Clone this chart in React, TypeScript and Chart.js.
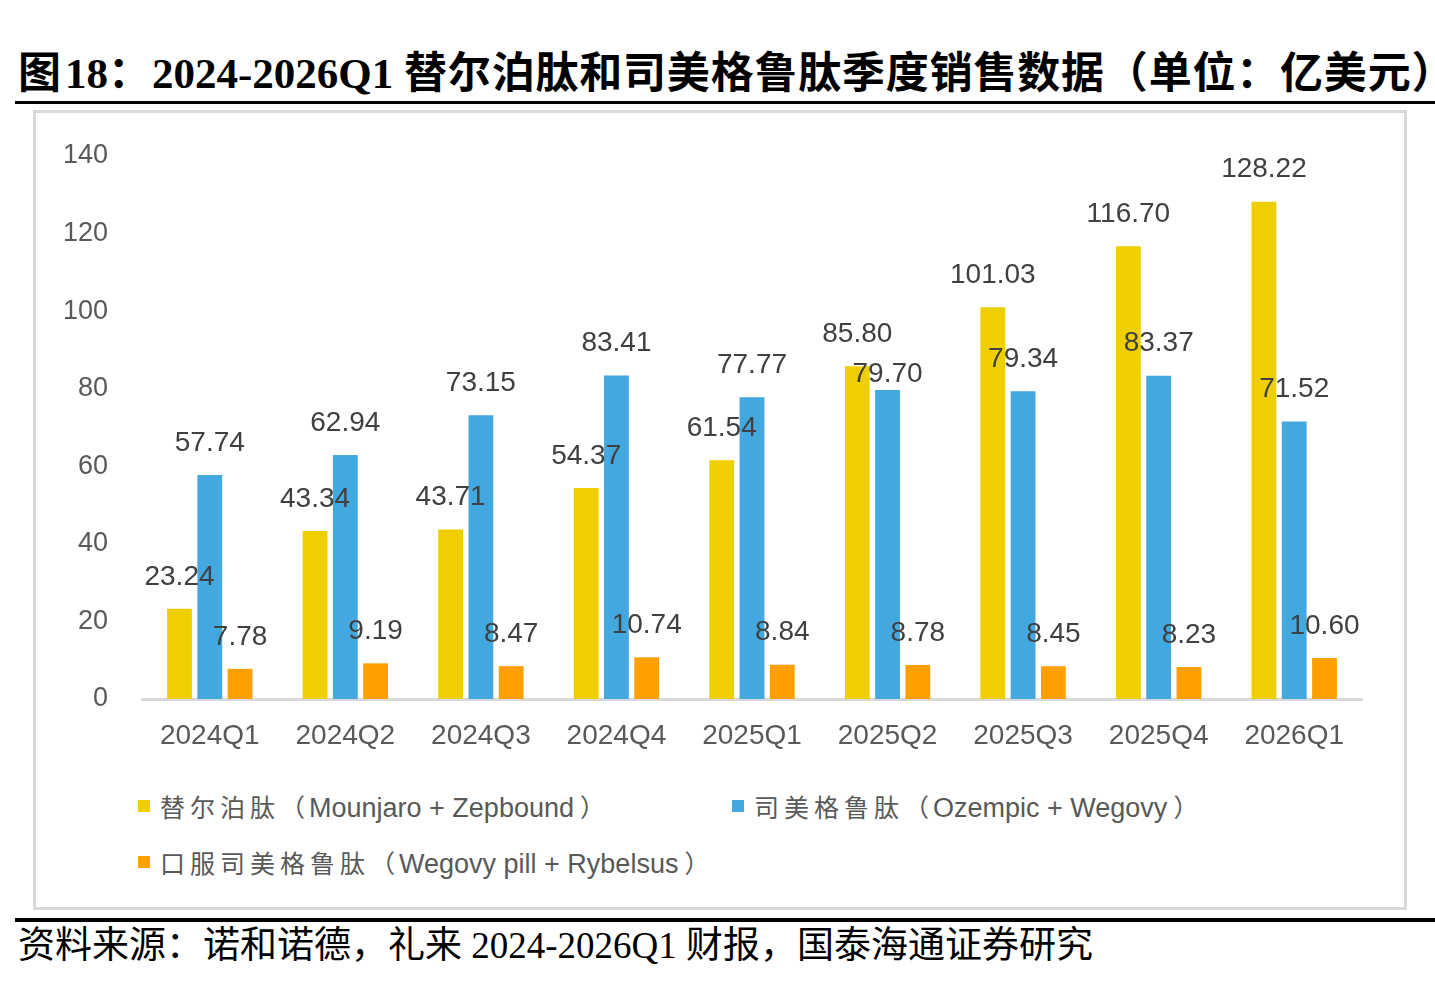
import { useEffect, useRef } from "react";
import { Chart, registerables } from "chart.js";

Chart.register(...registerables);

const quarters = ["2024Q1", "2024Q2", "2024Q3", "2024Q4", "2025Q1", "2025Q2", "2025Q3", "2025Q4", "2026Q1"];
const tirzepatide = [23.24, 43.34, 43.71, 54.37, 61.54, 85.8, 101.03, 116.7, 128.22];
const semaglutide = [57.74, 62.94, 73.15, 83.41, 77.77, 79.7, 79.34, 83.37, 71.52];
const oralSemaglutide = [7.78, 9.19, 8.47, 10.74, 8.84, 8.78, 8.45, 8.23, 10.6];
const yTicks = [0, 20, 40, 60, 80, 100, 120, 140];

const seriesCn = ["替尔泊肽", "司美格鲁肽", "口服司美格鲁肽"];
const seriesEn = ["Mounjaro + Zepbound", "Ozempic + Wegovy", "Wegovy pill + Rybelsus"];
const colors = ["#F0CF00", "#44A8E0", "#FFA000"];

const SANS = "'Liberation Sans', Arial, 'Noto Sans CJK SC', sans-serif";
const SERIF = "'Liberation Serif', 'Times New Roman', 'Noto Sans CJK SC', serif";

// labels sit above each bar; one label in the source is nudged down to dodge its neighbour
const labelPlugin = {
  id: "barLabels",
  afterDatasetsDraw(chart: any) {
    const ctx = chart.ctx;
    ctx.save();
    ctx.font = `28px ${SANS}`;
    ctx.fillStyle = "#404040";
    ctx.textAlign = "center";
    ctx.textBaseline = "middle";
    chart.data.datasets.forEach((ds: any, di: number) => {
      const meta = chart.getDatasetMeta(di);
      meta.data.forEach((bar: any, i: number) => {
        const nudge = di === 1 && i === 5 ? 16 : 0;
        ctx.fillText(Number(ds.data[i]).toFixed(2), bar.x, bar.y - 32 + nudge);
      });
    });
    ctx.restore();
  },
};

const BarChart = () => {
  const ref = useRef<HTMLCanvasElement>(null);

  useEffect(() => {
    if (!ref.current) return;
    const chart = new Chart(ref.current, {
      type: "bar",
      data: {
        labels: quarters,
        datasets: [tirzepatide, semaglutide, oralSemaglutide].map((d, i) => ({
          label: seriesCn[i] + "（" + seriesEn[i] + "）",
          data: d,
          backgroundColor: colors[i],
          categoryPercentage: 0.67,
          barPercentage: 0.82,
        })),
      },
      options: {
        animation: false,
        responsive: true,
        maintainAspectRatio: false,
        layout: { padding: { top: 44, right: 43, left: 0, bottom: 0 } },
        plugins: { legend: { display: false }, tooltip: { enabled: false } },
        scales: {
          x: {
            grid: { display: false, drawTicks: false },
            border: { color: "#D9D9D9", width: 3 },
            ticks: { color: "#595959", font: { family: SANS, size: 28 }, padding: 20, maxRotation: 0 },
            afterFit: (s: any) => {
              s.height = 60;
            },
          },
          y: {
            min: 0,
            max: 140,
            afterBuildTicks: (s: any) => {
              s.ticks = yTicks.map((v) => ({ value: v }));
            },
            grid: { display: false, drawTicks: false },
            border: { display: false },
            ticks: { color: "#595959", font: { family: SANS, size: 27 }, padding: 34 },
            afterFit: (s: any) => {
              s.width = 107;
              s.paddingTop = 0;
              s.paddingBottom = 0;
            },
          },
        },
      },
      plugins: [labelPlugin],
    });
    return () => chart.destroy();
  }, []);

  return (
    <div style={{ position: "absolute", left: 35, top: 112, width: 1370, height: 647 }}>
      <canvas ref={ref}></canvas>
    </div>
  );
};

const LegendItem = ({ x, y, color, cn, en }: { x: number; y: number; color: string; cn: string; en: string }) => (
  <div style={{ position: "absolute", left: x, top: y - 18, height: 36, display: "flex", alignItems: "center", whiteSpace: "nowrap" }}>
    <span style={{ display: "inline-block", width: 12, height: 12, background: color, marginRight: 10 }}></span>
    <span style={{ fontFamily: SANS, fontSize: 27, color: "#595959" }}>
      <span style={{ fontSize: 25, letterSpacing: 5 }}>{cn}</span>
      <span style={{ fontSize: 25 }}>（</span>
      <span style={{ marginLeft: 4 }}>{en}</span>
      <span style={{ fontSize: 25, marginLeft: 6 }}>）</span>
    </span>
  </div>
);

export default function App() {
  return (
    <div style={{ position: "absolute", left: 0, top: 0, width: 1435, height: 1005, background: "#fff", overflow: "hidden" }}>
      <div
        style={{
          position: "absolute",
          left: 18,
          top: 52,
          fontFamily: SERIF,
          fontWeight: "bold",
          fontSize: 43,
          lineHeight: "43px",
          whiteSpace: "nowrap",
          color: "#000",
        }}
      >
        <span style={{ marginRight: 4 }}>图</span>18<span style={{ letterSpacing: 1 }}>：</span>2024-2026Q1{" "}
        <span style={{ letterSpacing: 0.8 }}>替尔泊肽和司美格鲁肽季度销售数据（单位：亿美元）</span>
      </div>
      <div style={{ position: "absolute", left: 15, top: 101, width: 1420, height: 3, background: "#000" }}></div>

      <div style={{ position: "absolute", left: 33, top: 110, width: 1368, height: 794, border: "3px solid #D9D9D9" }}></div>

      <BarChart />

      <LegendItem x={138} y={806} color={colors[0]} cn={seriesCn[0]} en={seriesEn[0]} />
      <LegendItem x={732} y={806} color={colors[1]} cn={seriesCn[1]} en={seriesEn[1]} />
      <LegendItem x={138} y={862} color={colors[2]} cn={seriesCn[2]} en={seriesEn[2]} />

      <div style={{ position: "absolute", left: 15, top: 918, width: 1420, height: 4, background: "#000" }}></div>
      <div
        style={{
          position: "absolute",
          left: 18,
          top: 927,
          fontFamily: SERIF,
          fontSize: 37,
          lineHeight: "37px",
          whiteSpace: "nowrap",
          color: "#000",
        }}
      >
        资料来源：诺和诺德，礼来 2024-2026Q1 财报，国泰海通证券研究
      </div>
    </div>
  );
}
